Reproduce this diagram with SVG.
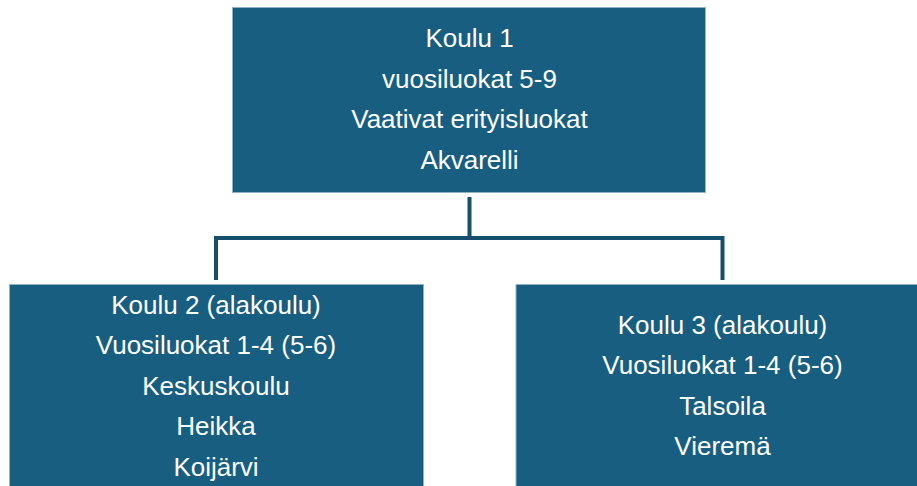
<svg xmlns="http://www.w3.org/2000/svg" width="917" height="486" viewBox="0 0 917 486">
<style>
.box{fill:#185E80;stroke:#8fb3c6;stroke-width:1}
.t{font-family:"Liberation Sans",Arial,sans-serif;font-size:26px;fill:#ffffff;text-anchor:middle}
.c{fill:none;stroke:#154F6B;stroke-width:4}
</style>
<rect width="917" height="486" fill="#ffffff"/>
<g id="connectors">
<path class="c" d="M469.5 197V238M216 280V238H722.5V280"/>
</g>
<g id="node-koulu1">
<rect class="box" x="232.5" y="7.5" width="473" height="185"/>
<text class="t" x="469.5" y="47">Koulu 1</text>
<text class="t" x="469.5" y="87.5">vuosiluokat 5-9</text>
<text class="t" x="469.5" y="128">Vaativat erityisluokat</text>
<text class="t" x="469.5" y="168.5">Akvarelli</text>
</g>
<g id="node-koulu2">
<rect class="box" x="9.5" y="284.5" width="414" height="210"/>
<text class="t" x="216" y="313.5">Koulu 2 (alakoulu)</text>
<text class="t" x="216" y="354">Vuosiluokat 1-4 (5-6)</text>
<text class="t" x="216" y="394.5">Keskuskoulu</text>
<text class="t" x="216" y="435">Heikka</text>
<text class="t" x="216" y="475.5">Koijärvi</text>
</g>
<g id="node-koulu3">
<rect class="box" x="516" y="284.5" width="420" height="210"/>
<text class="t" x="722.5" y="333.5">Koulu 3 (alakoulu)</text>
<text class="t" x="722.5" y="374">Vuosiluokat 1-4 (5-6)</text>
<text class="t" x="722.5" y="414.5">Talsoila</text>
<text class="t" x="722.5" y="455">Vieremä</text>
</g>
</svg>
